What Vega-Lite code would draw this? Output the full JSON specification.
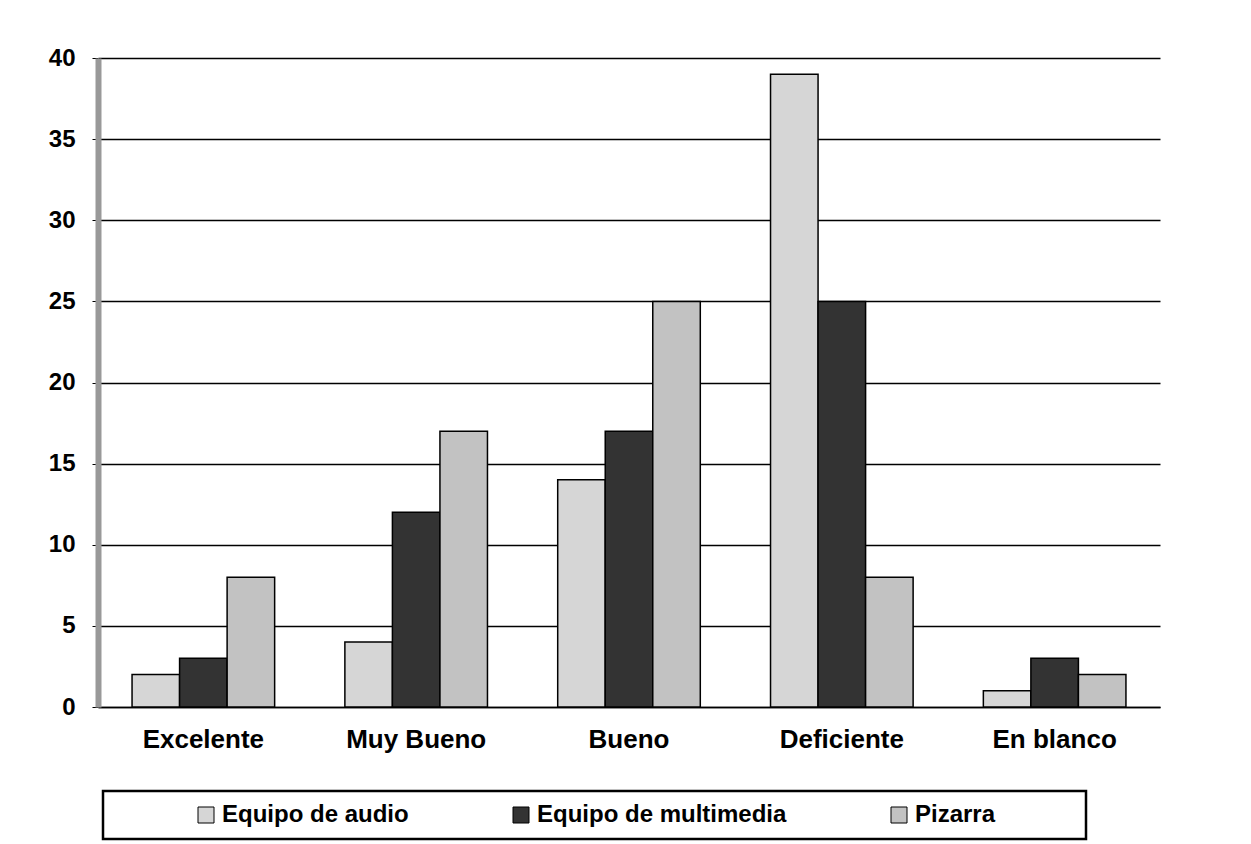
{
  "$schema": "https://vega.github.io/schema/vega-lite/v6.json",
  "autosize": "none",
  "width": 1062,
  "height": 649,
  "padding": {"left": 98, "top": 58, "right": 91, "bottom": 137},
  "background": "white",
  "config": {
    "view": {"stroke": null},
    "font": "Liberation Sans",
    "legend": {"strokeWidth": 2.5}
  },
  "data": {
    "values": [
      {"categoria": "Excelente", "serie": "Equipo de audio", "valor": 2},
      {"categoria": "Excelente", "serie": "Equipo de multimedia", "valor": 3},
      {"categoria": "Excelente", "serie": "Pizarra", "valor": 8},
      {"categoria": "Muy Bueno", "serie": "Equipo de audio", "valor": 4},
      {"categoria": "Muy Bueno", "serie": "Equipo de multimedia", "valor": 12},
      {"categoria": "Muy Bueno", "serie": "Pizarra", "valor": 17},
      {"categoria": "Bueno", "serie": "Equipo de audio", "valor": 14},
      {"categoria": "Bueno", "serie": "Equipo de multimedia", "valor": 17},
      {"categoria": "Bueno", "serie": "Pizarra", "valor": 25},
      {"categoria": "Deficiente", "serie": "Equipo de audio", "valor": 39},
      {"categoria": "Deficiente", "serie": "Equipo de multimedia", "valor": 25},
      {"categoria": "Deficiente", "serie": "Pizarra", "valor": 8},
      {"categoria": "En blanco", "serie": "Equipo de audio", "valor": 1},
      {"categoria": "En blanco", "serie": "Equipo de multimedia", "valor": 3},
      {"categoria": "En blanco", "serie": "Pizarra", "valor": 2}
    ]
  },
  "mark": {"type": "bar", "stroke": "black", "strokeWidth": 1.5},
  "encoding": {
    "x": {
      "field": "categoria",
      "type": "nominal",
      "sort": ["Excelente", "Muy Bueno", "Bueno", "Deficiente", "En blanco"],
      "scale": {"paddingInner": 0.33, "paddingOuter": 0.16},
      "axis": {
        "title": null,
        "labelAngle": 0,
        "labelFontSize": 26,
        "labelFontWeight": "bold",
        "labelColor": "black",
        "labelPadding": 19,
        "ticks": false,
        "domainColor": "black",
        "domainWidth": 1.5
      }
    },
    "xOffset": {
      "field": "serie",
      "type": "nominal",
      "sort": ["Equipo de audio", "Equipo de multimedia", "Pizarra"],
      "scale": {"paddingInner": 0, "paddingOuter": 0}
    },
    "y": {
      "field": "valor",
      "type": "quantitative",
      "scale": {"domain": [0, 40], "nice": false},
      "axis": {
        "title": null,
        "values": [0, 5, 10, 15, 20, 25, 30, 35, 40],
        "labelFontSize": 24,
        "labelFontWeight": "bold",
        "labelColor": "black",
        "labelPadding": 17,
        "tickColor": "black",
        "tickSize": 6,
        "domainColor": "#999999",
        "domainWidth": 6,
        "gridColor": "black",
        "gridWidth": 1.5
      }
    },
    "fill": {
      "field": "serie",
      "type": "nominal",
      "sort": ["Equipo de audio", "Equipo de multimedia", "Pizarra"],
      "scale": {
        "domain": ["Equipo de audio", "Equipo de multimedia", "Pizarra"],
        "range": ["#d6d6d6", "#333333", "#c2c2c2"]
      },
      "legend": {
        "title": "\u00a0",
        "titleOrient": "left",
        "titlePadding": 79,
        "titleFontSize": 24,
        "orient": "none",
        "legendX": 5,
        "legendY": 733,
        "direction": "horizontal",
        "columns": 3,
        "gridAlign": "each",
        "columnPadding": 100,
        "strokeColor": "black",
        "padding": 12,
        "symbolType": "square",
        "symbolSize": 256,
        "symbolStrokeColor": "black",
        "symbolStrokeWidth": 1,
        "labelFontSize": 24,
        "labelFontWeight": "bold",
        "labelColor": "black",
        "labelLimit": 600,
        "labelOffset": 4,
        "labelExpr": "datum.label == 'Pizarra' ? 'Pizarra\u00a0\u2800\u2800\u2800\u2800' : datum.label"
      }
    }
  }
}
